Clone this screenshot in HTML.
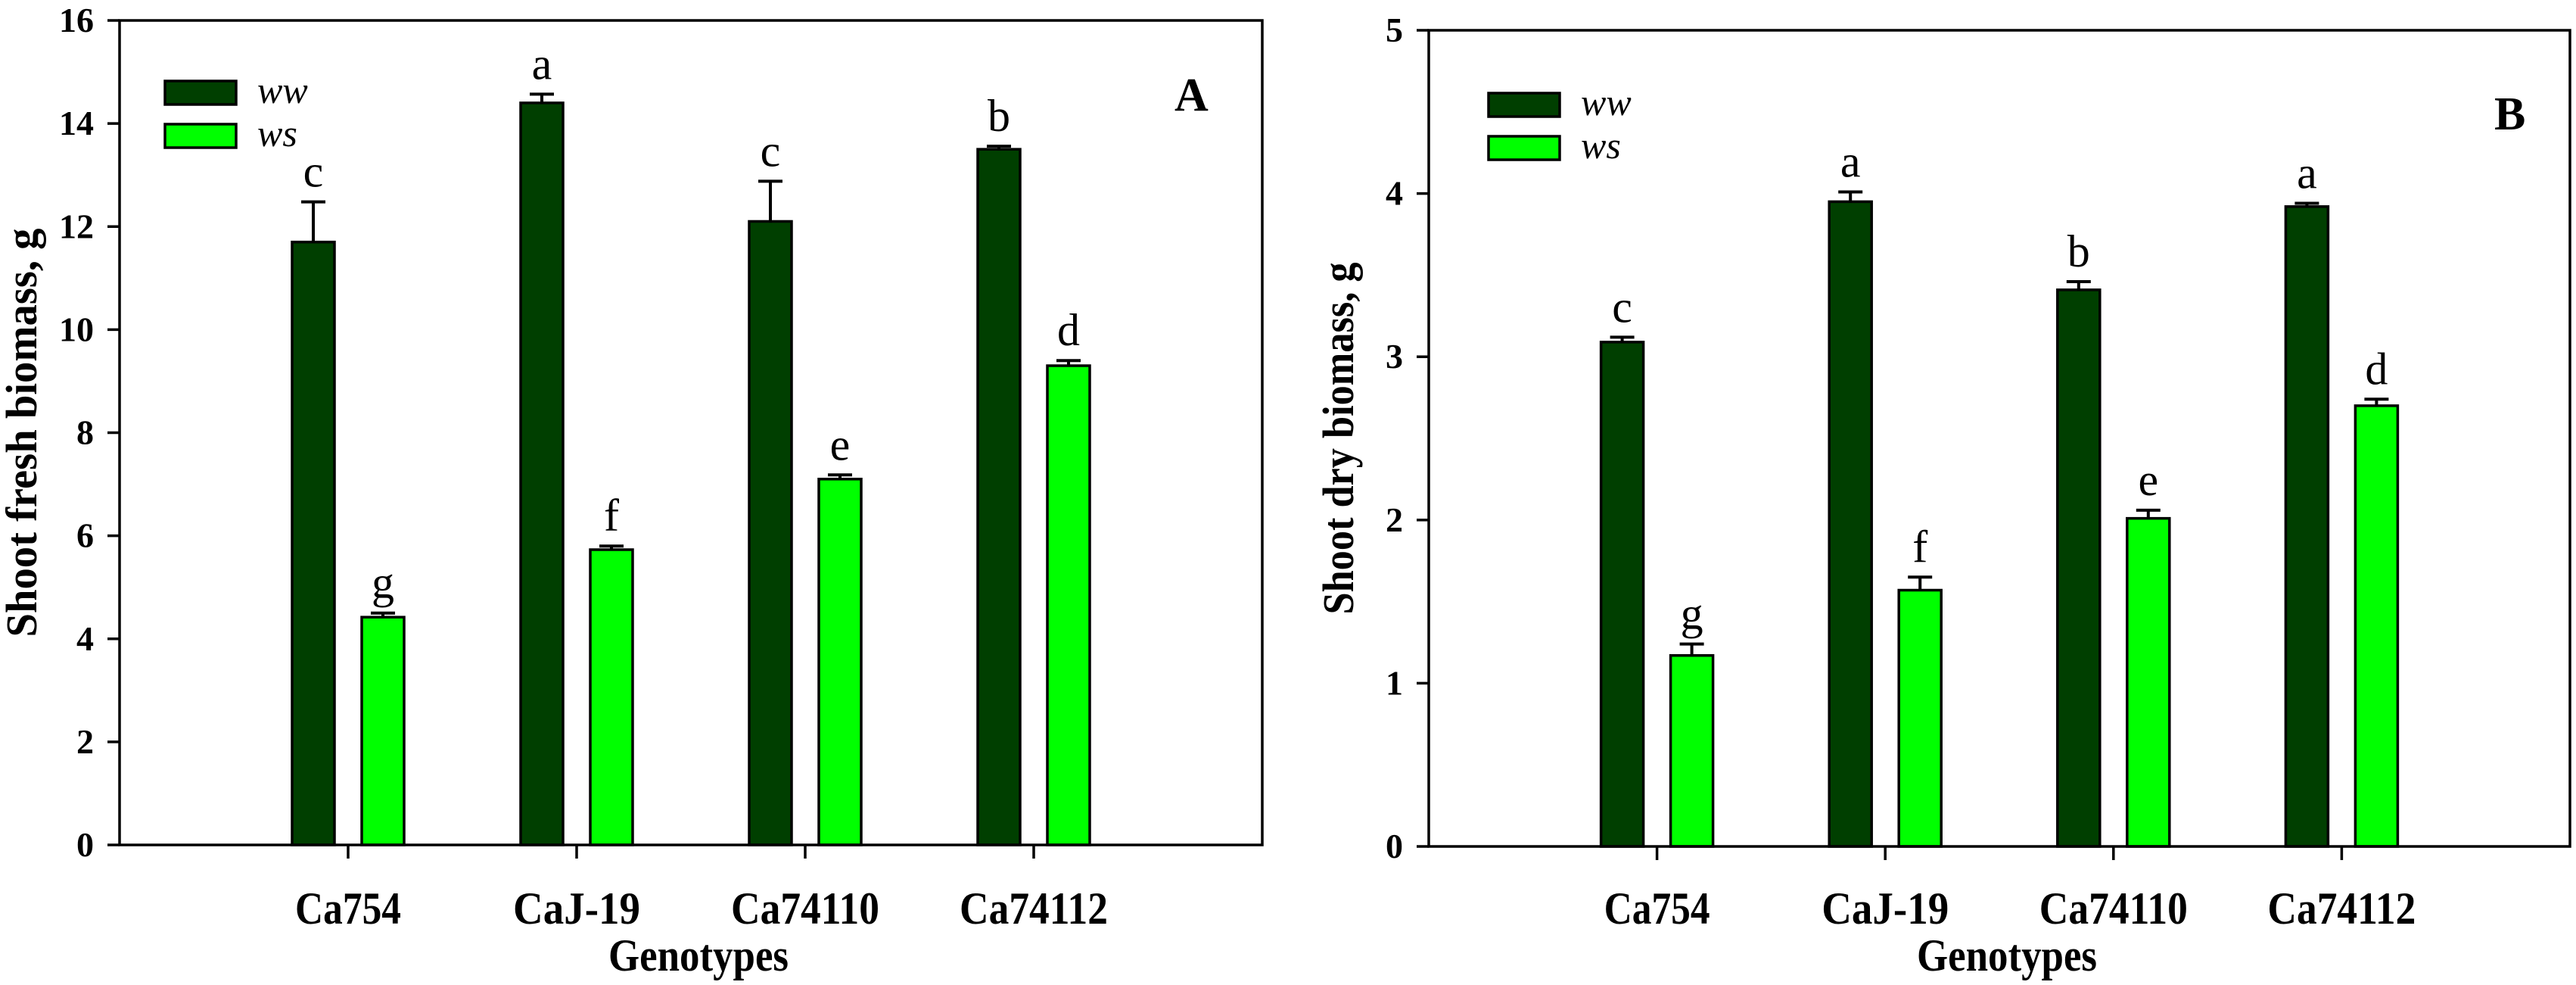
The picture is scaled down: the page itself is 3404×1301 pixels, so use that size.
<!DOCTYPE html>
<html><head><meta charset="utf-8"><style>
html,body{margin:0;padding:0;background:#fff;}
svg{display:block;}
svg text{font-family:"Liberation Serif","DejaVu Serif",serif !important;}
</style></head><body>
<svg id="chart" width="3404" height="1301" viewBox="0 0 3404 1301" xmlns="http://www.w3.org/2000/svg" font-family="Liberation Serif, serif"></svg>
<script>
const categories = ["Ca754","CaJ-19","Ca74110","Ca74112"];
const aWW = [11.7, 14.4, 12.1, 13.5];
const aWWerr = [0.78, 0.17, 0.78, 0.06];
const aWS = [4.42, 5.73, 7.1, 9.3];
const aWSerr = [0.08, 0.07, 0.08, 0.1];
const aWWletters = ["c","a","c","b"];
const aWSletters = ["g","f","e","d"];
const aTicks = [0,2,4,6,8,10,12,14,16];
const bWW = [3.09, 3.95, 3.41, 3.92];
const bWWerr = [0.03, 0.06, 0.05, 0.02];
const bWS = [1.17, 1.57, 2.01, 2.70];
const bWSerr = [0.07, 0.08, 0.05, 0.04];
const bWWletters = ["c","a","b","a"];
const bWSletters = ["g","f","e","d"];
const bTicks = [0,1,2,3,4,5];

const NS = "http://www.w3.org/2000/svg";
const svg = document.getElementById("chart");
function mk(tag, attrs, parent, txt){
  const e = document.createElementNS(NS, tag);
  for (const k in attrs) e.setAttribute(k, attrs[k]);
  if (tag === "text") e.setAttribute("font-family", "Liberation Serif, serif");
  if (txt !== undefined) e.textContent = txt;
  (parent || svg).appendChild(e);
  return e;
}

function panel(cfg){
  const g = mk("g", {});
  
  
  const L = cfg.left, R = cfg.right, T = cfg.top, B = cfg.bottom;
  const ymax = cfg.ticks[cfg.ticks.length-1];
  const y = v => B - v/ymax*(B-T);
  const x = i => L + (i+1)*(R-L)/5;
  const bw = 56, off = 46;
  for (let i=0;i<categories.length;i++){
    [[cfg.ww,cfg.wwErr,cfg.wwL,-off,"#003f00","ww"],[cfg.ws,cfg.wsErr,cfg.wsL,off,"#00ff00","ws"]].forEach(s=>{
      const cx = x(i)+s[3];
      const v = s[0][i], e = s[1][i];
      const top = y(v);
      const r = mk("rect",{x:cx-bw/2,y:top,width:bw,height:B-top,fill:s[4],stroke:"#000","stroke-width":3.5},g);
      
      
      const et = y(v+e);
      const eb = mk("path",{d:`M${cx} ${top}V${et}M${cx-16} ${et}H${cx+16}`,stroke:"#000","stroke-width":4,fill:"none"},g);
      
      
      const t = mk("text",{x:cx,y:et-20,"font-size":60,"text-anchor":"middle",fill:"#000"},g,s[2][i]);
      
      
    });
    const tk = mk("line",{x1:x(i),x2:x(i),y1:B,y2:B+18,stroke:"#000","stroke-width":3.5},g);
    
    
    const lb = mk("text",{x:x(i),y:1220,"font-size":60,"font-weight":"bold","text-anchor":"middle",textLength:categories[i].length*28,lengthAdjust:"spacingAndGlyphs"},g,categories[i]);
    
    
  }
  const fr = mk("rect",{x:L,y:T,width:R-L,height:B-T,fill:"none",stroke:"#000","stroke-width":3.5},g);
  
  
  cfg.ticks.forEach(t=>{
    const ln = mk("line",{x1:L-16,x2:L,y1:y(t),y2:y(t),stroke:"#000","stroke-width":3.5},g);
    
    
    const tx = mk("text",{x:L-34,y:y(t)+15,"font-size":46,"font-weight":"bold","text-anchor":"end"},g,String(t));
    
    
  });
  const yl = mk("text",{x:0,y:0,"font-size":58,"font-weight":"bold","text-anchor":"middle",transform:`translate(${cfg.ylx},${(T+B)/2}) rotate(-90)`,textLength:cfg.ylen,lengthAdjust:"spacingAndGlyphs"},g,cfg.ylabel);
  
  
  const xl = mk("text",{x:(L+R)/2+10,y:1282,"font-size":60,"font-weight":"bold","text-anchor":"middle",textLength:238,lengthAdjust:"spacingAndGlyphs"},g,"Genotypes");
  
  
  [["ww","#003f00",0],["ws","#00ff00",1]].forEach(s=>{
    const ly = cfg.legY + s[2]*57;
    const lr = mk("rect",{x:cfg.legX,y:ly,width:94,height:31,fill:s[1],stroke:"#000","stroke-width":3.5},g);
    
    
    const lt = mk("text",{x:cfg.legX+122,y:ly+29,"font-size":50,"font-style":"italic"},g,s[0]);
    
    
  });
  const pl = mk("text",{x:cfg.letX,y:cfg.letY,"font-size":62,"font-weight":"bold"},g,cfg.letter);
  
  
}

panel({name:"panel-a",left:158,right:1668,top:27,bottom:1116,ticks:aTicks,ww:aWW,wwErr:aWWerr,ws:aWS,wsErr:aWSerr,wwL:aWWletters,wsL:aWSletters,
  ylabel:"Shoot fresh biomass, g",ylx:48,ylen:540,legX:218,legY:107,letter:"A",letX:1552,letY:146});
panel({name:"panel-b",left:1888,right:3396,top:40,bottom:1118,ticks:bTicks,ww:bWW,wwErr:bWWerr,ws:bWS,wsErr:bWSerr,wwL:bWWletters,wsL:bWSletters,
  ylabel:"Shoot dry biomass, g",ylx:1788,ylen:465,legX:1967,legY:123,letter:"B",letX:3296,letY:171});
</script>
</body></html>
